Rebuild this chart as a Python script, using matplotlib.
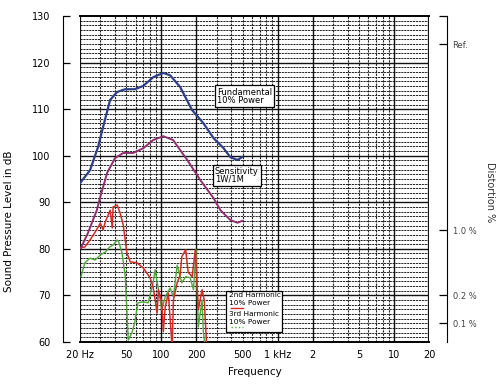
import matplotlib.pyplot as plt
import numpy as np
from matplotlib.patches import Rectangle
from matplotlib.ticker import FixedLocator, NullLocator

# frequency response
fund_hz = [20, 24.4, 28.6, 31.6, 36.3, 41.7, 48.9, 59.2, 69.8, 85.4, 104, 119,
           145, 184, 230, 281, 341, 392, 451, 494]
fund_db = [94.1, 96.9, 101.9, 106.2, 112.0, 113.7, 114.3, 114.3, 115.0, 116.9,
           117.8, 117.3, 114.8, 109.8, 107.0, 103.8, 101.7, 99.7, 99.1, 99.7]

sens_hz = [20.4, 23.4, 27.9, 29.9, 34.2, 40, 47.1, 57.3, 69.8, 85.4, 104, 126,
           167, 216, 281, 322, 392, 451, 494]
sens_db = [80.2, 83.4, 88.3, 91.2, 96.3, 99.5, 100.6, 100.6, 101.6, 103.4,
           104.2, 103.4, 99.1, 94.8, 90.9, 88.3, 86.2, 85.6, 86.0]

h2_hz = [20, 22, 24.4, 27, 29.9, 31.6, 33, 36.3, 37.9, 38.5, 41.7, 44.2, 47.1,
         50.6, 54.1, 61.8, 69.8, 80, 85, 88.5, 92, 94.5, 101, 104, 108, 115,
         124, 127, 137, 145, 150, 162, 170, 184, 196, 208, 224, 234, 246]
h2_db = [80.2, 80.4, 81.9, 83.6, 85.5, 84.1, 85.8, 88.3, 84.5, 89.0, 89.4,
         87.7, 85.1, 79.1, 77.2, 77.0, 75.9, 73.8, 71.8, 69.0, 66.2, 71.2,
         68.4, 62.2, 67.5, 70.5, 58.5, 69.0, 72.7, 74.4, 78.3, 79.8, 75.0,
         74.0, 79.8, 66.9, 71.2, 69.0, 58.5]

h3_hz = [20.4, 22, 24.4, 27, 30, 33, 36, 38.5, 41.7, 43, 46, 49, 52, 56, 59,
         63, 70, 77, 85, 88.5, 94.5, 101, 108, 119, 127, 137, 150, 162, 177,
         189, 199, 208, 224, 230, 240]
h3_db = [74.0, 77.0, 78.0, 77.6, 78.7, 79.3, 80.4, 80.8, 81.9, 81.5, 79.1,
         74.0, 60.4, 62.0, 64.1, 68.4, 68.6, 68.4, 72.7, 75.5, 71.2, 66.9,
         69.7, 71.6, 69.7, 76.5, 72.7, 74.0, 73.8, 71.2, 79.8, 63.2, 69.0,
         62.0, 58.5]

x_ticks = [20, 50, 100, 200, 500, 1000, 2000, 5000, 10000, 20000]
x_labels = ["20 Hz", "50", "100", "200", "500", "1 kHz", "2", "5", "10", "20"]
y_ticks = [60, 70, 80, 90, 100, 110, 120, 130]
dist_ticks = [64, 70, 84, 124]
dist_labels = ["0.1 %", "0.2 %", "1.0 %", "Ref."]

fig = plt.figure(figsize=(5, 3.85), dpi=100)
ax = fig.add_axes([0.16, 0.112, 0.698, 0.846])
ax.set_xscale("log")
ax.set_xlim(20, 20000)
ax.set_ylim(60, 130)

# grid
for d in range(61, 130):
    if d % 10:
        ax.axhline(d, color="#222222", lw=0.7, dashes=(2.2, 0.8), zorder=1)
for d in range(70, 130, 10):
    ax.axhline(d, color="#111111", lw=1.0, zorder=1)
for dec in [10, 100, 1000, 10000]:
    for m in range(2, 10):
        f = dec * m
        if 20 < f < 20000:
            if m == 2:
                ax.axvline(f, color="#111111", lw=1.0, zorder=1)
            else:
                ax.axvline(f, color="#222222", lw=0.8, dashes=(2, 1), zorder=1)
for f in [100, 1000, 10000]:
    ax.axvline(f, color="#111111", lw=1.0, zorder=1)
ax.axvline(20, color="#111111", lw=1.6, zorder=1)
ax.axvline(20000, color="#111111", lw=1.6, zorder=1)

ax.plot(fund_hz, fund_db, color="#2f3f88", lw=1.6, zorder=4)
ax.plot(sens_hz, sens_db, color="#8f2f70", lw=1.4, zorder=4)
ax.plot(h3_hz, h3_db, color="#4fa53c", lw=1.0, zorder=3)
ax.plot(h2_hz, h2_db, color="#d42a25", lw=1.1, zorder=3)

box = dict(boxstyle="square,pad=0.25", fc="white", ec="black", lw=0.9)
ax.text(300, 112.8, "Fundamental\n10% Power", fontsize=6, ha="left", va="center",
        linespacing=0.9, bbox=box, zorder=6)
ax.text(288, 95.8, "Sensitivity\n1W/1M", fontsize=6, ha="left", va="center",
        linespacing=0.9, bbox=box, zorder=6)

# harmonic legend box
ax.add_patch(Rectangle((362, 62.2), 1086 - 362, 71.0 - 62.2, fc="white", ec="black",
                       lw=0.9, zorder=6))
for txt, yy in [("2nd Harmonic", 70.0), ("10% Power", 68.4),
                ("3rd Harmonic", 65.9), ("10% Power", 64.3)]:
    ax.text(385, yy, txt, fontsize=5.3, ha="left", va="center", zorder=7)
ax.plot([394, 506], [67.2, 67.2], color="#d42a25", lw=1.0, zorder=8)
ax.plot([394, 506], [63.1, 63.1], color="#4fa53c", lw=1.0, ls=":", zorder=8)

ax.xaxis.set_major_locator(FixedLocator(x_ticks))
ax.xaxis.set_minor_locator(NullLocator())
ax.set_xticklabels(x_labels)
ax.tick_params(axis="x", length=0, pad=6, labelsize=7)
ax.set_yticks(y_ticks)
ax.tick_params(axis="y", direction="in", length=5, width=0.9, pad=9.5, labelsize=7)
ax.spines["left"].set_position(("outward", 12))
ax.spines["right"].set_visible(False)
ax.spines["top"].set_linewidth(1.4)
ax.spines["bottom"].set_linewidth(1.4)
ax.set_xlabel("Frequency", fontsize=7.5, labelpad=5)
ax.set_ylabel("Sound Pressure Level in dB", fontsize=7.5)
ax.yaxis.set_label_coords(-0.19, 0.37)

ax2 = ax.twinx()
ax2.set_ylim(60, 130)
ax2.set_yticks(dist_ticks + [130])
ax2.set_yticklabels(dist_labels + [""])
ax2.tick_params(axis="y", direction="in", length=6, width=0.9, pad=4, labelsize=6,
                labelcolor="#444444")
ax2.spines["right"].set_position(("outward", 13))
for s in ["left", "top", "bottom"]:
    ax2.spines[s].set_visible(False)
ax2.set_ylabel("Distortion %", fontsize=7, rotation=-90, color="#333333")
ax2.yaxis.set_label_coords(1.19, 0.46)

fig.savefig("out.png", dpi=100)
